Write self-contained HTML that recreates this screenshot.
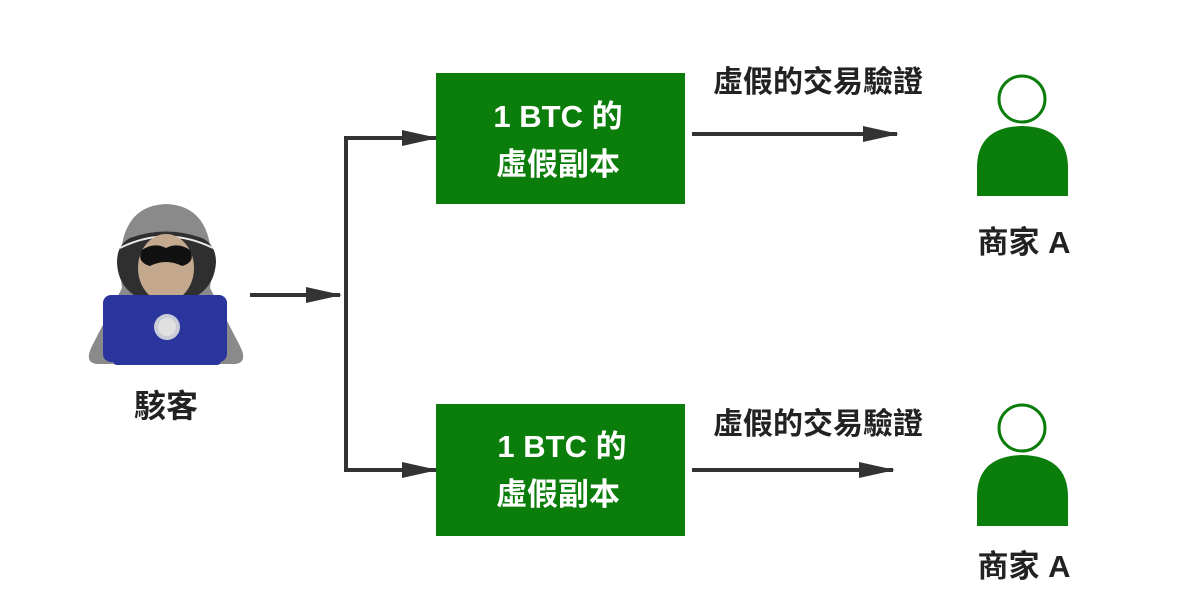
<!DOCTYPE html>
<html><head><meta charset="utf-8"><style>
html,body{margin:0;padding:0;background:#fff;width:1200px;height:600px;overflow:hidden}
text{font-family:"Liberation Sans","Noto Sans CJK TC",sans-serif;font-weight:bold}
</style></head><body>
<svg width="1200" height="600" viewBox="0 0 1200 600" xmlns="http://www.w3.org/2000/svg">
<defs>
<marker id="ah" markerWidth="36" markerHeight="18" refX="34" refY="9" orient="auto" markerUnits="userSpaceOnUse">
<path d="M0,1 L36,9 L0,17 Z" fill="#333"/>
</marker>
</defs>
<!-- hacker -->
<path d="M96,364 Q84,362 92,346 L122,288 Q112,206 166,204 Q220,206 210,288 L240,346 Q248,362 236,364 Z" fill="#8a8a8a"/>
<path d="M117,262 Q117,245 130,238 Q166,225 202,238 Q216,245 216,262 Q214,300 166,305 Q118,300 117,262 Z" fill="#2f2f2f"/>
<path d="M120,248 Q166,225 213,248" fill="none" stroke="#e8e8e8" stroke-width="2"/>
<ellipse cx="166" cy="268" rx="28" ry="34" fill="#c4a98e"/>
<path d="M142,250 Q154,242 166,248 Q178,242 190,250 Q196,262 182,266 Q166,258 150,266 Q136,262 142,250 Z" fill="#111"/>
<rect x="103" y="295" width="124" height="67" rx="8" fill="#2a359e"/>
<rect x="113" y="355" width="108" height="10" rx="4" fill="#2a359e"/>
<circle cx="167" cy="327" r="13" fill="#c9ccd8"/>
<circle cx="167" cy="327" r="9" fill="#e0e0e0"/>
<text x="166" y="417" font-size="32" text-anchor="middle" fill="#222">駭客</text>
<!-- connectors -->
<line x1="250" y1="295" x2="340" y2="295" stroke="#333" stroke-width="4" marker-end="url(#ah)"/>
<path d="M432,138 L346,138 L346,470 L432,470" fill="none" stroke="#333" stroke-width="4"/>
<line x1="346" y1="138" x2="436" y2="138" stroke="#333" stroke-width="4" marker-end="url(#ah)"/>
<line x1="346" y1="470" x2="436" y2="470" stroke="#333" stroke-width="4" marker-end="url(#ah)"/>
<!-- boxes -->
<rect x="436" y="73" width="249" height="131" fill="#0b7d0b"/>
<rect x="436" y="404" width="249" height="132" fill="#0b7d0b"/>
<text x="558" y="127" font-size="31" text-anchor="middle" fill="#fff">1 BTC 的</text>
<text x="558" y="175" font-size="31" text-anchor="middle" fill="#fff">虛假副本</text>
<text x="562" y="457" font-size="31" text-anchor="middle" fill="#fff">1 BTC 的</text>
<text x="558" y="505" font-size="31" text-anchor="middle" fill="#fff">虛假副本</text>
<!-- right arrows -->
<line x1="692" y1="134" x2="897" y2="134" stroke="#333" stroke-width="4" marker-end="url(#ah)"/>
<line x1="692" y1="470" x2="893" y2="470" stroke="#333" stroke-width="4" marker-end="url(#ah)"/>
<text x="818" y="92" font-size="30" text-anchor="middle" fill="#222">虛假的交易驗證</text>
<text x="818" y="434" font-size="30" text-anchor="middle" fill="#222">虛假的交易驗證</text>
<!-- persons -->
<circle cx="1022" cy="99" r="23" fill="#fff" stroke="#0b7d0b" stroke-width="3"/>
<path d="M977,196 L977,168 Q977,127 1022,126 Q1068,127 1068,168 L1068,196 Z" fill="#0b7d0b"/>
<text x="1024" y="253" font-size="31" text-anchor="middle" fill="#222">商家 A</text>
<circle cx="1022" cy="428" r="23" fill="#fff" stroke="#0b7d0b" stroke-width="3"/>
<path d="M977,526 L977,497 Q977,456 1022,455 Q1068,456 1068,497 L1068,526 Z" fill="#0b7d0b"/>
<text x="1024" y="577" font-size="31" text-anchor="middle" fill="#222">商家 A</text>
</svg>
</body></html>
